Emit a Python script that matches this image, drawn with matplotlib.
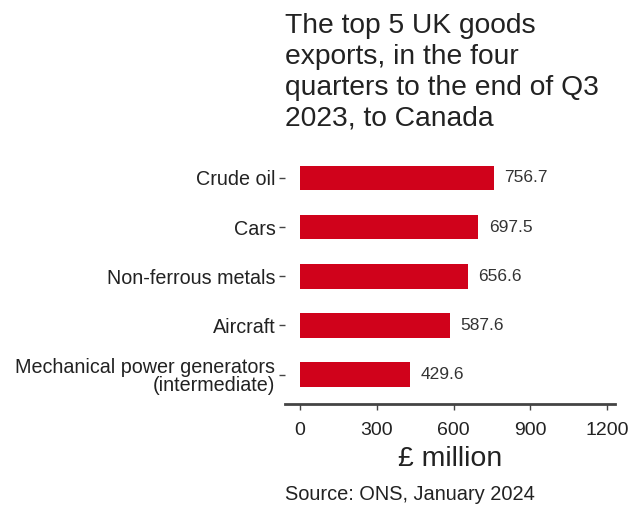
import matplotlib
matplotlib.use("Agg")
import matplotlib.pyplot as plt

# ---------- data ----------
categories = [
    "Crude oil",
    "Cars",
    "Non-ferrous metals",
    "Aircraft",
    "Mechanical power generators\n(intermediate)",
]
values = [756.7, 697.5, 656.6, 587.6, 429.6]
xticks = [0, 300, 600, 900, 1200]

BAR_COLOR = "#d0021b"
TEXT_COLOR = "#222222"

plt.rcParams["font.family"] = ["Liberation Sans", "DejaVu Sans"]

fig = plt.figure(figsize=(6.31, 5.05), dpi=100)
ax = fig.add_axes([0.452, 0.2, 0.523, 0.506])

ypos = list(range(len(categories)))[::-1]
ax.barh(ypos, values, height=0.5, color=BAR_COLOR)

for y, v in zip(ypos, values):
    ax.text(v + 40, y, f"{v:.1f}", ha="left", va="center",
            fontsize=12.5, color="#333333")

ax.set_yticks(ypos)
ax.set_yticklabels(categories, fontsize=14.2, color=TEXT_COLOR, linespacing=0.95)
ax.set_xticks(xticks)
ax.set_xticklabels([str(t) for t in xticks], fontsize=14, color=TEXT_COLOR)
ax.set_xlim(-58, 1232)
ax.set_ylim(-0.6, 4.6)

for s in ["top", "right", "left"]:
    ax.spines[s].set_visible(False)
ax.spines["bottom"].set_color("#444444")
ax.spines["bottom"].set_linewidth(2)
ax.tick_params(axis="y", length=4, width=1, color="#444444", pad=3)
ax.tick_params(axis="x", length=4, width=1, color="#444444", pad=9)

ax.set_xlabel("£ million", fontsize=20.5, color=TEXT_COLOR, labelpad=5)

fig.text(0.452, 0.975,
         "The top 5 UK goods\nexports, in the four\nquarters to the end of Q3\n2023, to Canada",
         ha="left", va="top", fontsize=20.3, color=TEXT_COLOR, linespacing=1.25)
fig.text(0.451, 0.01, "Source: ONS, January 2024",
         ha="left", va="baseline", fontsize=14.4, color=TEXT_COLOR)

fig.savefig("out.png", dpi=100)
